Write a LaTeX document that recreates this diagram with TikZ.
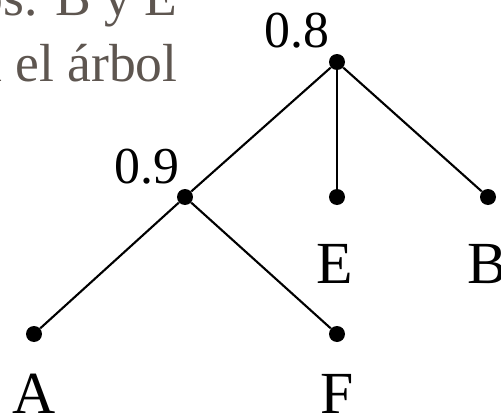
\documentclass[tikz,border=0pt]{standalone}
\usepackage{fontspec}
\setmainfont{Liberation Serif}
\usepackage{tikz}
\usepackage{xcolor}
\usetikzlibrary{positioning}
\definecolor{SlideGrey}{RGB}{94,86,80}
\definecolor{TreeBlack}{HTML}{000000}
\tikzset{
    % Node styles
    treedot/.style={
        circle,
        fill=TreeBlack,
        inner sep=0pt,
        minimum size=0.32cm
    },
    heightlabel/.style={
        inner sep=0pt,
        font=\fontsize{29.5}{34}\selectfont
    },
    leaflabel/.style={
        inner sep=0pt,
        font=\fontsize{34}{40}\selectfont
    },
    slidetext/.style={
        inner sep=0pt,
        text=SlideGrey,
        font=\fontsize{30.5}{36}\selectfont
    },
    % Edge style
    branch/.style={
        draw=TreeBlack,
        line width=1.2pt
    }
}
\begin{document}
\begin{tikzpicture}[x=0.02cm, y=-0.02cm]
                \useasboundingbox (0,0) rectangle (501,416);
                \clip (0,0) rectangle (501,416);

                % Slide text (cut off)
                \node[slidetext,anchor=base east] (line1) at (178,15) {os. B y E};
                \node[slidetext,anchor=base east] (line2) at (178,81) {a el árbol};

                % Tree nodes
                \node[treedot] (root) at (337,62) {};
                \node[treedot] (n09) at (185,197) {};
                \node[treedot] (e) at (337,197) {};
                \node[treedot] (b) at (488,197) {};
                \node[treedot] (a) at (34,334) {};
                \node[treedot] (f) at (337,334) {};

                % Heights
                \node[heightlabel,anchor=base east] (h08) at (330,47) {0.8};
                \node[heightlabel,anchor=base east] (h09) at (180,183) {0.9};

                % Leaves
                \node[leaflabel,anchor=base] (le) at (335,283) {E};
                \node[leaflabel,anchor=base] (lb) at (487,283) {B};
                \node[leaflabel,anchor=base] (la) at (34,413) {A};
                \node[leaflabel,anchor=base] (lf) at (337,413) {F};

                % Branches
                \draw[branch] (root) -- (n09);
                \draw[branch] (root) -- (e);
                \draw[branch] (root) -- (b);
                \draw[branch] (n09) -- (a);
                \draw[branch] (n09) -- (f);
            \end{tikzpicture}
\end{document}
